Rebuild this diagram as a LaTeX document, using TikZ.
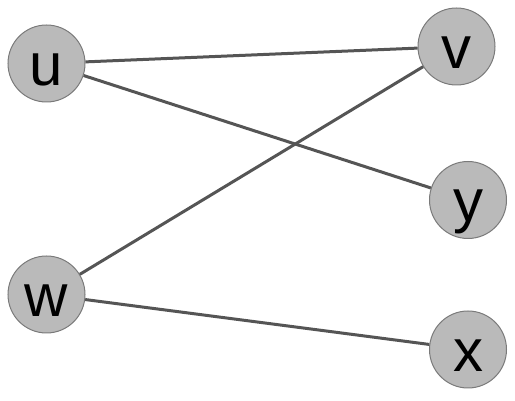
\documentclass[tikz,border=0pt]{standalone}
\usepackage{fontspec}
\setmainfont{Liberation Sans}
\usepackage{tikz}
\definecolor{vertexgray}{HTML}{BABABA}
\definecolor{rimgray}{HTML}{7A7A7A}
\definecolor{edgegray}{HTML}{555555}

\begin{document}
\begin{tikzpicture}[
    x=1pt, y=1pt,
    vertex/.style={circle, draw=rimgray, fill=vertexgray, line width=1pt, minimum size=77pt, inner sep=0pt, text height=44pt, text depth=0pt, font=\fontsize{60}{60}\selectfont},
    edge/.style={draw=edgegray, line width=3pt}
]
    \useasboundingbox (0,0) rectangle (515,401);

    % Vertices
    \node[vertex] (u) at (46.5, 337.5) {u};
    \node[vertex] (v) at (456.5, 354.5) {v};
    \node[vertex] (y) at (468, 201) {y};
    \node[vertex] (w) at (46.5, 106.5) {w};
    \node[vertex] (x) at (468, 51.5) {x};

    % Edges
    \draw[edge] (u) -- (v);
    \draw[edge] (u) -- (y);
    \draw[edge] (w) -- (v);
    \draw[edge] (w) -- (x);
\end{tikzpicture}
\end{document}
